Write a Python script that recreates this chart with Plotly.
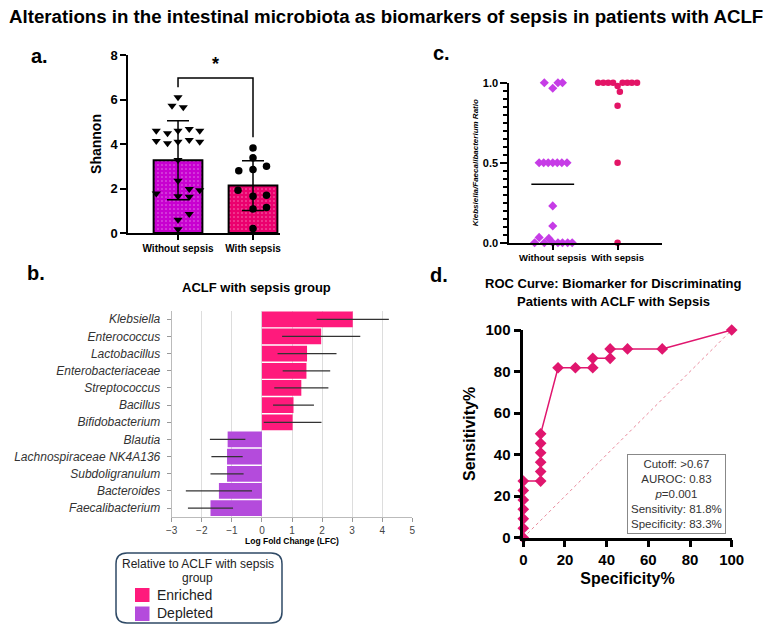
import numpy as np
import plotly.graph_objects as go

W, H = 770, 630
FONT = "Arial, Liberation Sans, sans-serif"

def fx(px):
    return px / W

def fy(py):
    return 1 - py / H

# ---------------- data ----------------
# Panel a: Shannon diversity
groups = ["Without sepsis", "With sepsis"]
shannon_mean = [3.27, 2.13]
shannon_sd = [1.77, 1.12]
shannon_without = [6.1, 5.72, 5.65, 4.6, 4.48, 4.6, 4.67, 4.6, 4.13, 4.03, 4.1, 4.18, 4.1,
                   3.28, 2.35, 1.78, 1.65, 1.98, 1.63, 1.92, 0.85, 0.6, 0.17]
shannon_without_jitter = [0, -0.08, 0.07, -0.29, -0.14, 0, 0.15, 0.29, -0.29, -0.14, 0, 0.15, 0.29,
                          0, 0, -0.29, 0, 0.15, 0.15, 0.29, 0.15, 0, 0]
shannon_with = [3.82, 3.38, 2.8, 2.85, 3.0, 1.92, 1.65, 1.7, 1.08, 1.15, 0.2]
shannon_with_jitter = [0, 0, -0.19, 0, 0.18, -0.2, 0, 0.18, 0, 0.18, 0]

# Panel b: log fold change
taxa = ["Klebsiella", "Enterococcus", "Lactobacillus", "Enterobacteriaceae", "Streptococcus",
        "Bacillus", "Bifidobacterium", "Blautia", "Lachnospiraceae NK4A136", "Subdoligranulum",
        "Bacteroides", "Faecalibacterium"]
lfc = [3.02, 1.97, 1.5, 1.48, 1.31, 1.05, 1.02, -1.14, -1.16, -1.16, -1.43, -1.71]
lfc_err = [1.2, 1.3, 0.98, 0.79, 0.9, 0.68, 0.96, 0.59, 0.52, 0.55, 1.1, 0.75]

# Panel c: Klebsiella / Faecalibacterium ratio
ratio_without = [1.0, 1.0, 1.0, 0.965, 0.5, 0.5, 0.5, 0.5, 0.5, 0.5, 0.5, 0.23, 0.104,
                 0, 0, 0, 0, 0, 0, 0, 0.033, 0.027]
ratio_without_jitter = [-0.13, 0.08, 0.15, 0, -0.21, -0.14, -0.07, 0, 0.07, 0.14, 0.22, 0, 0,
                        -0.28, -0.13, 0, 0.08, 0.15, 0.23, 0.3, -0.21, -0.06]
ratio_with = [1.0, 1.0, 1.0, 1.0, 0.98, 1.0, 1.0, 1.0, 1.0, 0.944, 0.856, 0.5, 0]
ratio_with_jitter = [-0.3, -0.22, -0.145, -0.07, 0, 0.077, 0.15, 0.22, 0.3, 0.035, 0, 0, 0]

# Panel d: ROC curve
roc_spec = [0, 0, 0, 0, 0, 0, 0, 8.33, 8.33, 8.33, 8.33, 8.33, 8.33,
            16.67, 25, 33.33, 33.33, 41.67, 41.67, 50, 66.67, 100]
roc_sens = [0, 4.55, 9.09, 13.64, 18.18, 22.73, 27.27, 27.27, 31.82, 36.36, 40.91, 45.45, 50,
            81.82, 81.82, 81.82, 86.36, 86.36, 90.91, 90.91, 90.91, 100]
roc_stats = ["Cutoff: >0.67", "AUROC: 0.83", "<i>p</i>=0.001", "Sensitivity: 81.8%", "Specificity: 83.3%"]

# ---------------- colours ----------------
C_A_WITHOUT = "#C800D0"
C_A_WITH = "#EB006E"
C_ENR = "#FF1A7C"
C_DEP = "#B44BDC"
C_C_WITHOUT = "#C63CE6"
C_C_WITH = "#E31466"
C_ROC = "#E0166E"

fig = go.Figure()

# ---------------- panel a ----------------
fig.add_trace(go.Bar(
    x=[0, 1], y=shannon_mean, width=0.65,
    marker=dict(color=[C_A_WITHOUT, C_A_WITH], line=dict(color="black", width=2),
                pattern=dict(shape=".", fgcolor="white", size=4, solidity=0.12)),
    error_y=dict(type="data", array=shannon_sd, color="black", thickness=1.5, width=11),
    xaxis="x", yaxis="y", showlegend=False))
fig.add_trace(go.Scatter(
    x=np.array(shannon_without_jitter) + 0, y=shannon_without, mode="markers",
    marker=dict(symbol="triangle-down", size=8, color="black"),
    xaxis="x", yaxis="y", showlegend=False, cliponaxis=False))
fig.add_trace(go.Scatter(
    x=np.array(shannon_with_jitter) + 1, y=shannon_with, mode="markers",
    marker=dict(symbol="circle", size=7.5, color="black"),
    xaxis="x", yaxis="y", showlegend=False, cliponaxis=False))

# ---------------- panel b ----------------
fig.add_trace(go.Bar(
    y=taxa, x=lfc, orientation="h", width=0.92,
    marker=dict(color=[C_ENR if v > 0 else C_DEP for v in lfc], line=dict(width=0)),
    error_x=dict(type="data", array=lfc_err, color="#333333", thickness=1.3, width=0),
    xaxis="x2", yaxis="y2", showlegend=False))

# ---------------- panel c ----------------
med_without = float(np.median(ratio_without))
fig.add_trace(go.Scatter(
    x=[-0.33, 0.33], y=[med_without, med_without], mode="lines",
    line=dict(color="black", width=1.5), xaxis="x3", yaxis="y3", showlegend=False))
fig.add_trace(go.Scatter(
    x=np.array(ratio_without_jitter) + 0, y=ratio_without, mode="markers",
    marker=dict(symbol="diamond", size=7, color=C_C_WITHOUT),
    xaxis="x3", yaxis="y3", showlegend=False, cliponaxis=False))
fig.add_trace(go.Scatter(
    x=np.array(ratio_with_jitter) + 1, y=ratio_with, mode="markers",
    marker=dict(symbol="circle", size=6.5, color=C_C_WITH),
    xaxis="x3", yaxis="y3", showlegend=False, cliponaxis=False))

# ---------------- panel d ----------------
fig.add_trace(go.Scatter(
    x=[0, 100], y=[0, 100], mode="lines",
    line=dict(color="#E88A9C", width=1, dash="dot"),
    xaxis="x4", yaxis="y4", showlegend=False))
fig.add_trace(go.Scatter(
    x=roc_spec, y=roc_sens, mode="lines+markers",
    line=dict(color=C_ROC, width=1.5),
    marker=dict(symbol="diamond", size=9, color=C_ROC),
    xaxis="x4", yaxis="y4", showlegend=False, cliponaxis=False))

# ---------------- axes ----------------
bold = dict(family=FONT, color="black", weight="bold")
layout_axes = dict(
    xaxis=dict(domain=[fx(128), fx(280)], range=[-0.667, 1.36], tickvals=[0, 1], ticktext=groups,
               showline=True, linecolor="black", linewidth=1.5, ticks="outside", ticklen=5,
               tickwidth=1.5, tickcolor="black", showgrid=False, zeroline=False,
               tickfont=dict(size=10, **bold), anchor="y"),
    yaxis=dict(domain=[fy(233), fy(55)], range=[0, 8], dtick=2, showline=True, linecolor="black",
               linewidth=1.5, ticks="outside", ticklen=6, tickwidth=1.5, tickcolor="black",
               showgrid=False, zeroline=False, tickfont=dict(size=13, **bold),
               title=dict(text="Shannon", font=dict(size=14, **bold), standoff=6), anchor="x"),
    xaxis2=dict(domain=[fx(171.7), fx(412.3)], range=[-3, 5], dtick=1, showgrid=True,
                gridcolor="#DDDDDD", gridwidth=1, zeroline=False, showline=True, linecolor="#BBBBBB",
                ticks="outside", ticklen=4, tickcolor="#999999",
                tickfont=dict(size=10, family=FONT, color="#444444"), anchor="y2"),
    yaxis2=dict(domain=[fy(516.7), fy(310.7)], range=[11.5, -0.5], type="category",
                categoryorder="array", categoryarray=taxa, showline=True, linecolor="#BBBBBB",
                ticks="outside", ticklen=4, tickcolor="#999999", showgrid=False, zeroline=False,
                tickfont=dict(size=12, family=FONT, color="#333333", style="italic"),
                ticklabelstandoff=4, anchor="x2"),
    xaxis3=dict(domain=[fx(509.3), fx(661.7)], range=[-0.67, 1.68], tickvals=[0, 1], ticktext=groups,
                showline=True, linecolor="black", linewidth=2, ticks="outside", ticklen=5,
                tickwidth=1.5, tickcolor="black", showgrid=False, zeroline=False,
                tickfont=dict(size=9.5, **bold), anchor="y3"),
    yaxis3=dict(domain=[fy(242.7), fy(82.7)], range=[0, 1], dtick=0.5, tickformat=".1f",
                showline=True, linecolor="black", linewidth=2, ticks="outside", ticklen=7,
                tickwidth=2, tickcolor="black", showgrid=False, zeroline=False,
                minor=dict(ticks="outside", ticklen=4, tickwidth=1.5, tickcolor="black",
                           tickmode="linear", tick0=0, dtick=0.05),
                tickfont=dict(size=11, **bold),
                title=dict(text="<i>Klebsiella/Faecalibacterium Ratio</i>",
                           font=dict(size=8, **bold), standoff=3), anchor="x3"),
    xaxis4=dict(domain=[fx(523.3), fx(731.7)], range=[0, 100], dtick=20, showline=True,
                linecolor="black", linewidth=2.5, ticks="outside", ticklen=7, tickwidth=2.5,
                tickcolor="black", showgrid=False, zeroline=False, tickfont=dict(size=15, **bold),
                title=dict(text="Specificity%", font=dict(size=16, **bold), standoff=6), anchor="y4"),
    yaxis4=dict(domain=[fy(537.7), fy(330)], range=[0, 100], dtick=20, showline=True,
                linecolor="black", linewidth=2.5, ticks="outside", ticklen=7, tickwidth=2.5,
                tickcolor="black", showgrid=False, zeroline=False, tickfont=dict(size=15, **bold),
                title=dict(text="Sensitivity%", font=dict(size=16, **bold), standoff=6), anchor="x4"),
)
for k in layout_axes:
    layout_axes[k]["automargin"] = False

# ---------------- annotations ----------------
ann = []
def txt(text, px, py, size, weight="bold", color="black", xanchor="center", yanchor="middle", style="normal"):
    ann.append(dict(text=text, x=fx(px), y=fy(py), xref="paper", yref="paper", showarrow=False,
                    xanchor=xanchor, yanchor=yanchor,
                    font=dict(family=FONT, size=size, color=color, weight=weight, style=style)))

txt("Alterations in the intestinal microbiota as biomarkers of sepsis in patients with ACLF", 386, 16, 18.7)
txt("a.", 39, 56, 20)
txt("b.", 36, 273, 20)
txt("c.", 441, 53, 20)
txt("d.", 439, 275, 20)
txt("ACLF with sepsis group", 256, 288, 13)
txt("Log Fold Change (LFC)", 292, 541, 8.5)
txt("ROC Curve: Biomarker for Discriminating", 613, 284, 13)
txt("Patients with ACLF with Sepsis", 613, 301, 13)

# significance markers
ann.append(dict(text="*", x=0.5, y=7.05, xref="x", yref="y", showarrow=False, yanchor="bottom",
                font=dict(family=FONT, size=18, color="black", weight="bold")))
ann.append(dict(text="***", x=0.5, y=1.14, xref="x3", yref="y3", showarrow=False, yanchor="bottom",
                font=dict(family=FONT, size=13, color="black", weight="bold")))

# ROC stats box
ann.append(dict(text="<br>".join(roc_stats), x=fx(676.3), y=fy(494), xref="paper", yref="paper",
                showarrow=False, xanchor="center", yanchor="middle", align="center",
                bordercolor="#888888", borderwidth=1, borderpad=3, bgcolor="white",
                font=dict(family=FONT, size=11.5, color="#333333")))

# legend of panel b
txt("Relative to ACLF with sepsis", 198, 564, 12, weight="normal", color="#222222")
txt("group", 198, 578, 12, weight="normal", color="#222222")
txt("Enriched", 155, 595, 14, weight="normal", color="#222222", xanchor="left")
txt("Depleted", 155, 613, 14, weight="normal", color="#222222", xanchor="left")

shapes = []
# brackets
shapes.append(dict(type="path", xref="x", yref="y", path="M 0,6.55 L 0,6.97 L 1,6.97 L 1,4.3",
                   line=dict(color="black", width=1.5)))
shapes.append(dict(type="path", xref="x3", yref="y3", path="M 0,1.06 L 0,1.125 L 1,1.125 L 1,1.06",
                   line=dict(color="black", width=1.5)))

# rounded legend frame
x0, x1, y0, y1, r = 116, 282, 553, 623, 11
def P(px, py):
    return f"{fx(px):.5f},{fy(py):.5f}"
path = (f"M {P(x0 + r, y0)} L {P(x1 - r, y0)} Q {P(x1, y0)} {P(x1, y0 + r)} "
        f"L {P(x1, y1 - r)} Q {P(x1, y1)} {P(x1 - r, y1)} L {P(x0 + r, y1)} "
        f"Q {P(x0, y1)} {P(x0, y1 - r)} L {P(x0, y0 + r)} Q {P(x0, y0)} {P(x0 + r, y0)} Z")
shapes.append(dict(type="path", xref="paper", yref="paper", path=path,
                   line=dict(color="#2F4A66", width=1.5)))
shapes.append(dict(type="rect", xref="paper", yref="paper", x0=fx(135), x1=fx(149.5),
                   y0=fy(602), y1=fy(588), fillcolor=C_ENR, line=dict(width=0)))
shapes.append(dict(type="rect", xref="paper", yref="paper", x0=fx(135), x1=fx(149.5),
                   y0=fy(621), y1=fy(606.5), fillcolor=C_DEP, line=dict(width=0)))

fig.update_layout(
    width=W, height=H, margin=dict(l=0, r=0, t=0, b=0, autoexpand=False),
    paper_bgcolor="white", plot_bgcolor="white",
    font=dict(family=FONT, color="black"),
    annotations=ann, shapes=shapes, showlegend=False,
    **layout_axes)

fig.write_html(
    "out.html",
    config={"displayModeBar": False},
    post_script=("document.documentElement.style.margin='0';document.documentElement.style.padding='0';"
                 "document.documentElement.style.overflow='hidden';"
                 "document.body.style.margin='0';document.body.style.padding='0';"
                 "document.body.style.overflow='hidden';"),
)
